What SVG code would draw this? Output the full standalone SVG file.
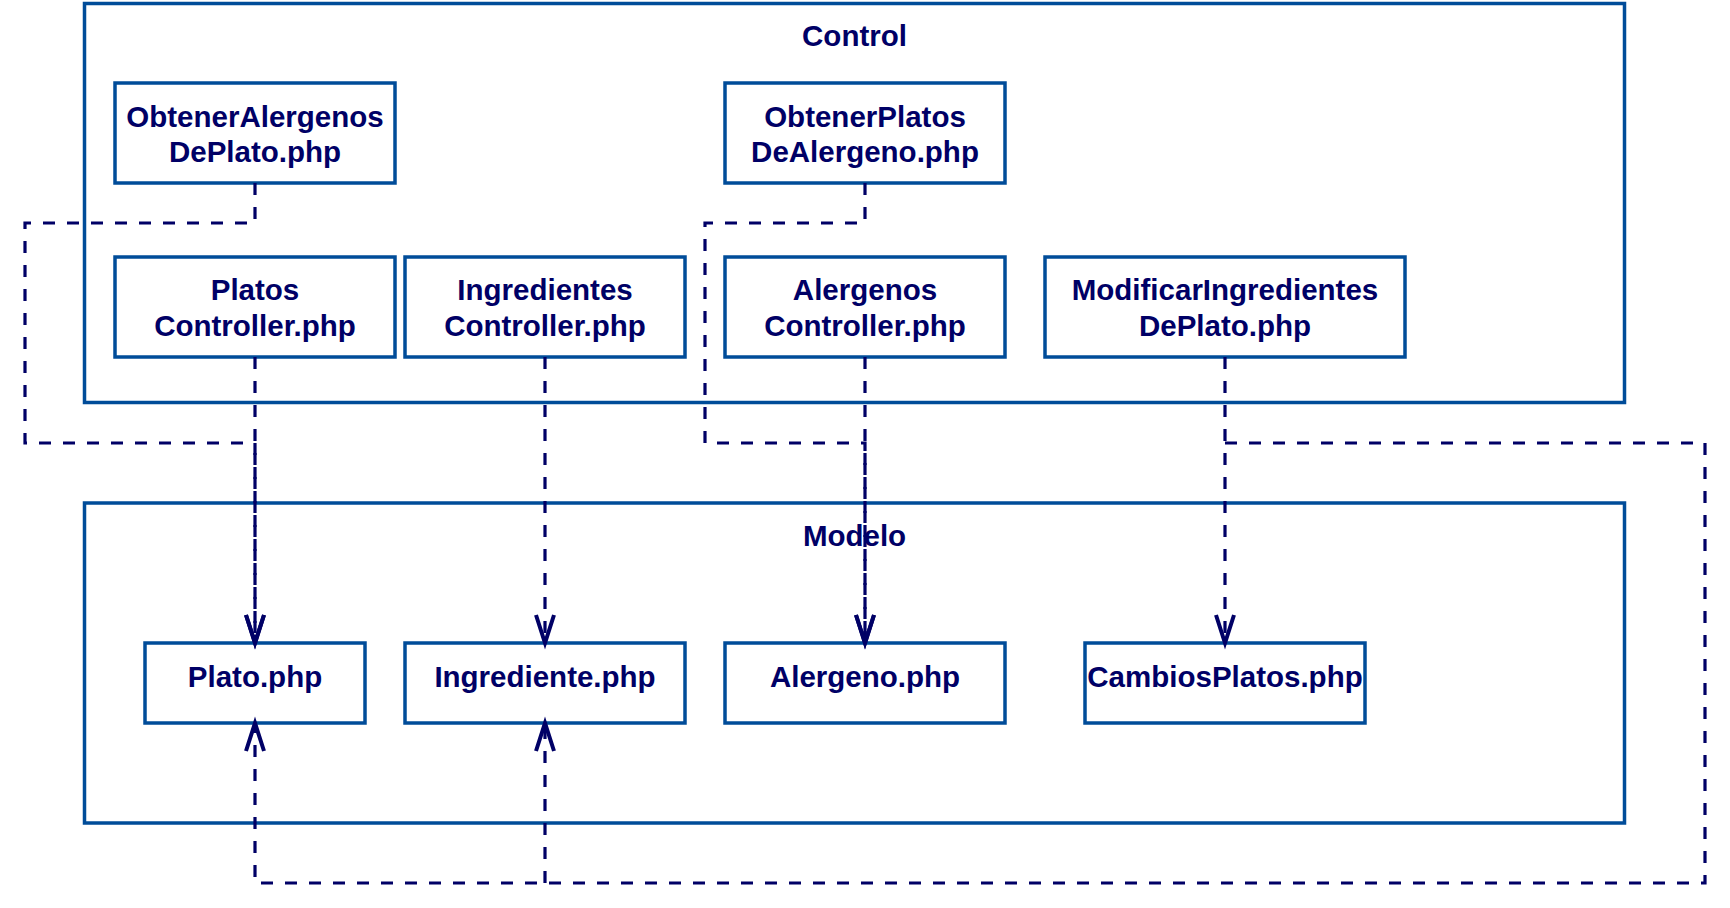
<svg xmlns="http://www.w3.org/2000/svg" width="1730" height="908" viewBox="0 0 1730 908">
  <style>
    .frame { fill: none; stroke: #004C99; stroke-width: 3.5; }
    .box { fill: #FFFFFF; stroke: #004C99; stroke-width: 3.5; }
    .lbl { font-family: "Liberation Sans", Arial, sans-serif; font-weight: bold; font-size: 29.5px; fill: #000066; text-anchor: middle; }
    .dep { fill: none; stroke: #000066; stroke-width: 3.2; stroke-dasharray: 12 12; }
  </style>
  <defs>
    <marker id="open" markerUnits="userSpaceOnUse" markerWidth="40" markerHeight="40" refX="0" refY="0" orient="auto" overflow="visible">
      <path d="M-28,-9 L0,0 L-28,9" fill="none" stroke="#000066" stroke-width="4" stroke-linejoin="miter"/>
    </marker>
  </defs>
  <rect x="0" y="0" width="1730" height="908" fill="#FFFFFF"/>

  <g id="control">
    <rect class="frame" x="84.5" y="3.5" width="1540" height="399"/>
    <text class="lbl" x="854.5" y="46">Control</text>
  </g>
  <g id="modelo">
    <rect class="frame" x="84.5" y="503" width="1540" height="320"/>
    <text class="lbl" x="854.5" y="546">Modelo</text>
  </g>

  <g id="obtenerAlergenosDePlato">
    <rect class="box" x="115" y="83" width="280" height="100"/>
    <text class="lbl" x="255" y="127">ObtenerAlergenos</text>
    <text class="lbl" x="255" y="162">DePlato.php</text>
  </g>
  <g id="obtenerPlatosDeAlergeno">
    <rect class="box" x="725" y="83" width="280" height="100"/>
    <text class="lbl" x="865" y="127">ObtenerPlatos</text>
    <text class="lbl" x="865" y="162">DeAlergeno.php</text>
  </g>
  <g id="platosController">
    <rect class="box" x="115" y="257" width="280" height="100"/>
    <text class="lbl" x="255" y="300">Platos</text>
    <text class="lbl" x="255" y="336">Controller.php</text>
  </g>
  <g id="ingredientesController">
    <rect class="box" x="405" y="257" width="280" height="100"/>
    <text class="lbl" x="545" y="300">Ingredientes</text>
    <text class="lbl" x="545" y="336">Controller.php</text>
  </g>
  <g id="alergenosController">
    <rect class="box" x="725" y="257" width="280" height="100"/>
    <text class="lbl" x="865" y="300">Alergenos</text>
    <text class="lbl" x="865" y="336">Controller.php</text>
  </g>
  <g id="modificarIngredientesDePlato">
    <rect class="box" x="1045" y="257" width="360" height="100"/>
    <text class="lbl" x="1225" y="300">ModificarIngredientes</text>
    <text class="lbl" x="1225" y="336">DePlato.php</text>
  </g>

  <g id="plato">
    <rect class="box" x="145" y="643" width="220" height="80"/>
    <text class="lbl" x="255" y="687">Plato.php</text>
  </g>
  <g id="ingrediente">
    <rect class="box" x="405" y="643" width="280" height="80"/>
    <text class="lbl" x="545" y="687">Ingrediente.php</text>
  </g>
  <g id="alergeno">
    <rect class="box" x="725" y="643" width="280" height="80"/>
    <text class="lbl" x="865" y="687">Alergeno.php</text>
  </g>
  <g id="cambiosPlatos">
    <rect class="box" x="1085" y="643" width="280" height="80"/>
    <text class="lbl" x="1225" y="687">CambiosPlatos.php</text>
  </g>

  <g id="connectors">
    <path class="dep" d="M255,183 V223 H25 V443 H255 V643" marker-end="url(#open)"/>
    <path class="dep" d="M255,357 V643" marker-end="url(#open)"/>
    <path class="dep" d="M545,357 V643" marker-end="url(#open)"/>
    <path class="dep" d="M865,183 V223 H705 V443 H865 V643" marker-end="url(#open)"/>
    <path class="dep" d="M865,357 V643" marker-end="url(#open)"/>
    <path class="dep" d="M1225,357 V643" marker-end="url(#open)"/>
    <path class="dep" d="M1225,443 H1705 V883 H255 V723" marker-end="url(#open)"/>
    <path class="dep" d="M545,883 V723" marker-end="url(#open)"/>
  </g>
</svg>
